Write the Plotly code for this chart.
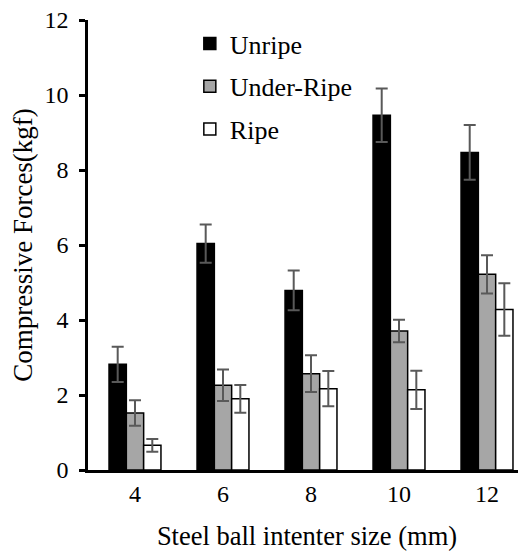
import plotly.graph_objects as go

categories = ["4", "6", "8", "10", "12"]
unripe = [2.82, 6.04, 4.79, 9.46, 8.47]
unripe_err = [0.47, 0.51, 0.53, 0.71, 0.73]
under_ripe = [1.52, 2.26, 2.57, 3.71, 5.22]
under_ripe_err = [0.34, 0.42, 0.49, 0.30, 0.51]
ripe = [0.66, 1.90, 2.17, 2.14, 4.28]
ripe_err = [0.17, 0.37, 0.47, 0.51, 0.70]

FAM = "Liberation Serif"
ERR_COLOR = "#595959"

def F(size=26):
    return dict(family=FAM, size=size, color="#000000")

def err(v):
    return dict(type="data", array=v, visible=True, color=ERR_COLOR, thickness=2, width=6)

fig = go.Figure()
fig.add_trace(go.Bar(name="Unripe", x=categories, y=unripe, error_y=err(unripe_err),
                     marker=dict(color="#000000", line=dict(color="#000000", width=1.5)),
                     legendgroup="a"))
fig.add_trace(go.Bar(name="Under-Ripe", x=categories, y=under_ripe, error_y=err(under_ripe_err),
                     marker=dict(color="#a6a6a6", line=dict(color="#000000", width=1.5)),
                     legendgroup="b"))
fig.add_trace(go.Bar(name="Ripe", x=categories, y=ripe, error_y=err(ripe_err),
                     marker=dict(color="#ffffff", line=dict(color="#000000", width=1.5)),
                     legendgroup="c"))

fig.update_layout(
    template="none",
    width=518, height=543,
    margin=dict(l=80, r=0, t=12, b=81, pad=0),
    paper_bgcolor="white", plot_bgcolor="white",
    barmode="group", bargap=0.41, bargroupgap=0,
    font=F(),
    showlegend=True,
    legend=dict(x=0.2325, y=1.0, xanchor="left", yanchor="top",
                bgcolor="rgba(0,0,0,0)", tracegroupgap=6,
                font=F(26), itemwidth=30),
    xaxis=dict(type="category", range=[-0.534, 4.443], showline=True, linecolor="#000000",
               linewidth=2.5, ticks="", showgrid=False, zeroline=False,
               title=dict(text="Steel ball intenter size (mm)", font=F(26.5)),
               tickfont=F(24)),
    yaxis=dict(range=[0, 12], dtick=2, showline=True, linecolor="#000000", linewidth=2.5,
               ticks="outside", ticklen=6, tickwidth=2.5, tickcolor="#000000",
               showgrid=False, zeroline=False, ticklabeloverflow="allow",
               ticksuffix="\u00a0", automargin=True,
               title=dict(text="Compressive Forces(kgf)", standoff=6, font=F(27)),
               tickfont=F(24)),
)

fig.write_html("out.html")
